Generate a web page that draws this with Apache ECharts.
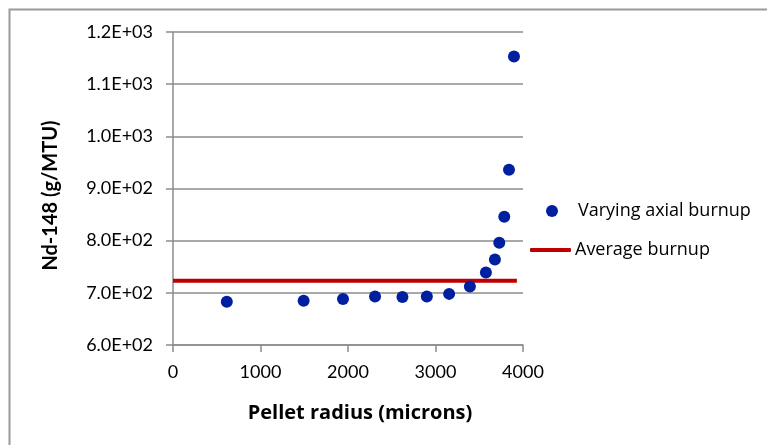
<!DOCTYPE html>
<html>
<head>
<meta charset="utf-8">
<script src="https://cdn.jsdelivr.net/npm/echarts@6/dist/echarts.min.js"></script>
<style>
  html, body { margin: 0; padding: 0; background: #ffffff; }
  #chart { width: 767px; height: 445px; }
</style>
</head>
<body>
<div id="chart"></div>
<script>
// Nd-148 concentration across the pellet radius
const radiusMicrons = [615, 1493, 1943, 2309, 2622, 2901, 3156, 3393, 3576, 3679, 3729, 3786, 3840, 3897];
const nd148Values   = [683, 685, 688, 693, 692, 693, 698, 712, 739, 764, 796, 846, 936, 1153];

// Average-burnup reference level, spanning the pellet
const averageRadius = [0, 3930];
const averageValue  = [723, 723];

const xTicks = { min: 0, max: 4000, step: 1000 };
const yTicks = { min: 600, max: 1200, step: 100 };

const seriesNames = ['Varying axial burnup', 'Average burnup'];
const axisTitles = { x: 'Pellet radius (microns)', y: 'Nd-148 (g/MTU)' };

function sci(v) {
  if (v === 0) return '0.0E+00';
  const e = Math.floor(Math.log10(Math.abs(v)));
  const m = v / Math.pow(10, e);
  const sign = e < 0 ? '-' : '+';
  const ee = String(Math.abs(e)).padStart(2, '0');
  return m.toFixed(1) + 'E' + sign + ee;
}

const FONT = 'Lato, "Open Sans", sans-serif';
const WIDE = '"Open Sans", Lato, sans-serif';
const GRID_GRAY = '#8c8c8c';
const DOT_BLUE = '#0020a0';
const LINE_RED = '#c00000';

const legendText = { fontFamily: WIDE, fontSize: 18, color: '#000', lineHeight: 20 };

const chart = echarts.init(document.getElementById('chart'), null, { renderer: 'canvas' });

chart.setOption({
  backgroundColor: '#ffffff',
  animation: false,
  graphic: [{
    type: 'rect',
    shape: { x: 9.5, y: 9.5, width: 800, height: 480 },
    style: { fill: 'none', stroke: '#9a9a9a', lineWidth: 2 },
    silent: true,
    z: -10
  }],
  grid: { left: 173, right: 244, top: 32, bottom: 100 },
  legend: [
    {
      left: 541, top: 196,
      itemWidth: 42, itemHeight: 12,
      data: [{ name: seriesNames[0], icon: 'circle' }],
      textStyle: legendText
    },
    {
      left: 525, top: 235,
      itemWidth: 41, itemHeight: 4, itemGap: 0,
      data: [{ name: seriesNames[1], icon: 'roundRect' }],
      textStyle: Object.assign({}, legendText, { padding: [0, 0, 0, -1] })
    }
  ],
  xAxis: {
    type: 'value',
    min: xTicks.min,
    max: xTicks.max,
    interval: xTicks.step,
    name: axisTitles.x,
    nameLocation: 'middle',
    nameGap: 58,
    nameTextStyle: { fontFamily: WIDE, fontSize: 20, fontWeight: 'bold', color: '#000', padding: [0, 0, 0, 24] },
    axisLine: { show: true, onZero: false, lineStyle: { color: GRID_GRAY, width: 1.5 } },
    axisTick: { show: true, length: 7, lineStyle: { color: GRID_GRAY, width: 1.5 } },
    axisLabel: { fontFamily: FONT, fontSize: 18, color: '#000', margin: 18, formatter: v => String(v) },
    splitLine: { show: false }
  },
  yAxis: {
    type: 'value',
    min: yTicks.min,
    max: yTicks.max,
    interval: yTicks.step,
    name: axisTitles.y,
    nameLocation: 'middle',
    nameGap: 112,
    nameTextStyle: { fontFamily: FONT, fontSize: 20, fontWeight: 'bold', color: '#000', padding: [0, 0, 0, -14] },
    axisLine: { show: true, lineStyle: { color: GRID_GRAY, width: 1.5 } },
    axisTick: { show: true, length: 7, lineStyle: { color: GRID_GRAY, width: 1.5 } },
    axisLabel: { fontFamily: FONT, fontSize: 18, color: '#000', margin: 20, formatter: sci },
    splitLine: { show: true, lineStyle: { color: GRID_GRAY, width: 1.5 } }
  },
  series: [
    {
      name: seriesNames[0],
      type: 'scatter',
      symbol: 'circle',
      symbolSize: 12,
      itemStyle: { color: DOT_BLUE, opacity: 1 },
      data: radiusMicrons.map((r, i) => [r, nd148Values[i]]),
      z: 3
    },
    {
      name: seriesNames[1],
      type: 'line',
      symbol: 'none',
      lineStyle: { color: LINE_RED, width: 4 },
      itemStyle: { color: LINE_RED },
      data: averageRadius.map((r, i) => [r, averageValue[i]]),
      z: 2
    }
  ]
});
</script>
</body>
</html>
